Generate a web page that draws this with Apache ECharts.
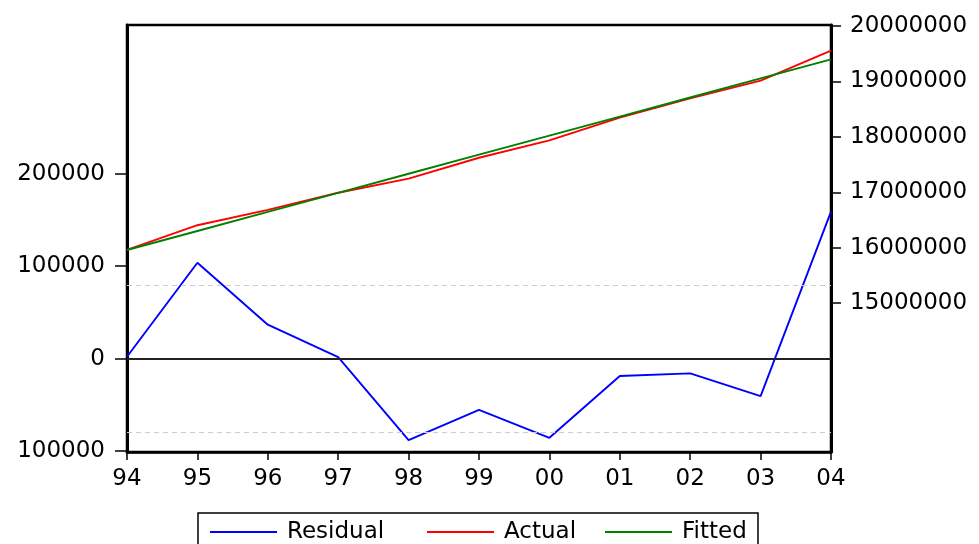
<!DOCTYPE html>
<html>
<head>
<meta charset="utf-8">
<script src="https://cdn.jsdelivr.net/npm/echarts@6/dist/echarts.min.js"></script>
<style>
html,body{margin:0;padding:0;background:#fff;}
#chart{width:979px;height:544px;}
</style>
</head>
<body>
<div id="chart"></div>
<script>
// ---- data ----
const years = ['94','95','96','97','98','99','00','01','02','03','04'];
const residual = [2000, 103800, 36700, 1700, -88100, -55300, -85600, -18800, -15900, -40500, 159000];
const actual = [15959000, 16405000, 16682000, 16992000, 17246000, 17623000, 17936000, 18347000, 18695000, 19015000, 19558000];
const fitted = [15957000, 16301000, 16645000, 16990000, 17334000, 17678000, 18022000, 18366000, 18711000, 19055000, 19399000];
const leftTicks = [-100000, 0, 100000, 200000];
const leftTickLabels = ['100000', '0', '100000', '200000'];
const rightTicks = [15000000, 16000000, 17000000, 18000000, 19000000, 20000000];
const bandLevels = [-79800, 79800];

const FONT = 'DejaVu Sans';
const FS = 23;

const chart = echarts.init(document.getElementById('chart'), null, {renderer: 'canvas'});
chart.setOption({
  backgroundColor: '#ffffff',
  animation: false,
  textStyle: {fontFamily: FONT, color: '#000'},
  grid: {
    left: 127, right: 148, top: 25, bottom: 92,
    show: true, borderColor: '#000', borderWidth: 2.5, backgroundColor: 'transparent'
  },
  legend: {
    left: 198, top: 513,
    orient: 'horizontal',
    borderColor: '#000', borderWidth: 1.5,
    padding: [7, 6, 30, 12],
    itemGap: 10,
    icon: 'rect',
    itemWidth: 67, itemHeight: 2,
    selectedMode: false,
    textStyle: {fontFamily: FONT, fontSize: FS, color: '#000', lineHeight: 24, padding: [0, 0, 0, 5]},
    data: [
      {name: 'Residual', textStyle: {width: 130}},
      {name: 'Actual', textStyle: {width: 91}},
      {name: 'Fitted', textStyle: {width: 70}}
    ]
  },
  xAxis: {
    type: 'category',
    data: years,
    boundaryGap: false,
    axisLine: {onZero: false, lineStyle: {color: '#000', width: 2.5}},
    axisTick: {show: true, inside: false, length: 8, interval: 0, lineStyle: {color: '#000', width: 1.5}},
    axisLabel: {interval: 0, fontFamily: FONT, fontSize: FS, color: '#000', margin: 16},
    splitLine: {show: false}
  },
  yAxis: [
    {
      type: 'value',
      position: 'left',
      min: -101000, max: 361000,
      axisLine: {show: true, lineStyle: {color: '#000', width: 3}},
      axisTick: {show: true, inside: false, length: 12, customValues: leftTicks, lineStyle: {color: '#000', width: 1.5}},
      axisLabel: {
        customValues: leftTicks,
        fontFamily: FONT, fontSize: FS, color: '#000', margin: 22,
        formatter: function (v) {
          const i = leftTicks.indexOf(v);
          return i >= 0 ? leftTickLabels[i] : '';
        }
      },
      splitLine: {show: false}
    },
    {
      type: 'value',
      position: 'right',
      min: 12310000, max: 20020000,
      axisLine: {show: true, lineStyle: {color: '#000', width: 3}},
      axisTick: {show: true, inside: false, length: 10, customValues: rightTicks, lineStyle: {color: '#000', width: 1.5}},
      axisLabel: {
        customValues: rightTicks,
        fontFamily: FONT, fontSize: FS, color: '#000', margin: 19,
        formatter: function (v) { return String(v); }
      },
      splitLine: {show: false}
    }
  ],
  series: [
    {
      name: 'Residual',
      type: 'line',
      yAxisIndex: 0,
      data: residual,
      symbol: 'none',
      lineStyle: {color: '#0000ff', width: 1.9},
      itemStyle: {color: '#0000ff'},
      z: 3,
      markLine: {
        silent: true,
        symbol: 'none',
        label: {show: false},
        animation: false,
        data: [
          {yAxis: 0, lineStyle: {color: '#222', width: 1.8, type: 'solid'}},
          {yAxis: bandLevels[0], lineStyle: {color: '#cccccc', width: 1.2, type: [5, 4]}},
          {yAxis: bandLevels[1], lineStyle: {color: '#cccccc', width: 1.2, type: [5, 4]}}
        ]
      }
    },
    {
      name: 'Actual',
      type: 'line',
      yAxisIndex: 1,
      data: actual,
      symbol: 'none',
      lineStyle: {color: '#ff0000', width: 1.9},
      itemStyle: {color: '#ff0000'},
      z: 4
    },
    {
      name: 'Fitted',
      type: 'line',
      yAxisIndex: 1,
      data: fitted,
      symbol: 'none',
      lineStyle: {color: '#008000', width: 1.9},
      itemStyle: {color: '#008000'},
      z: 5
    }
  ]
});
</script>
</body>
</html>
